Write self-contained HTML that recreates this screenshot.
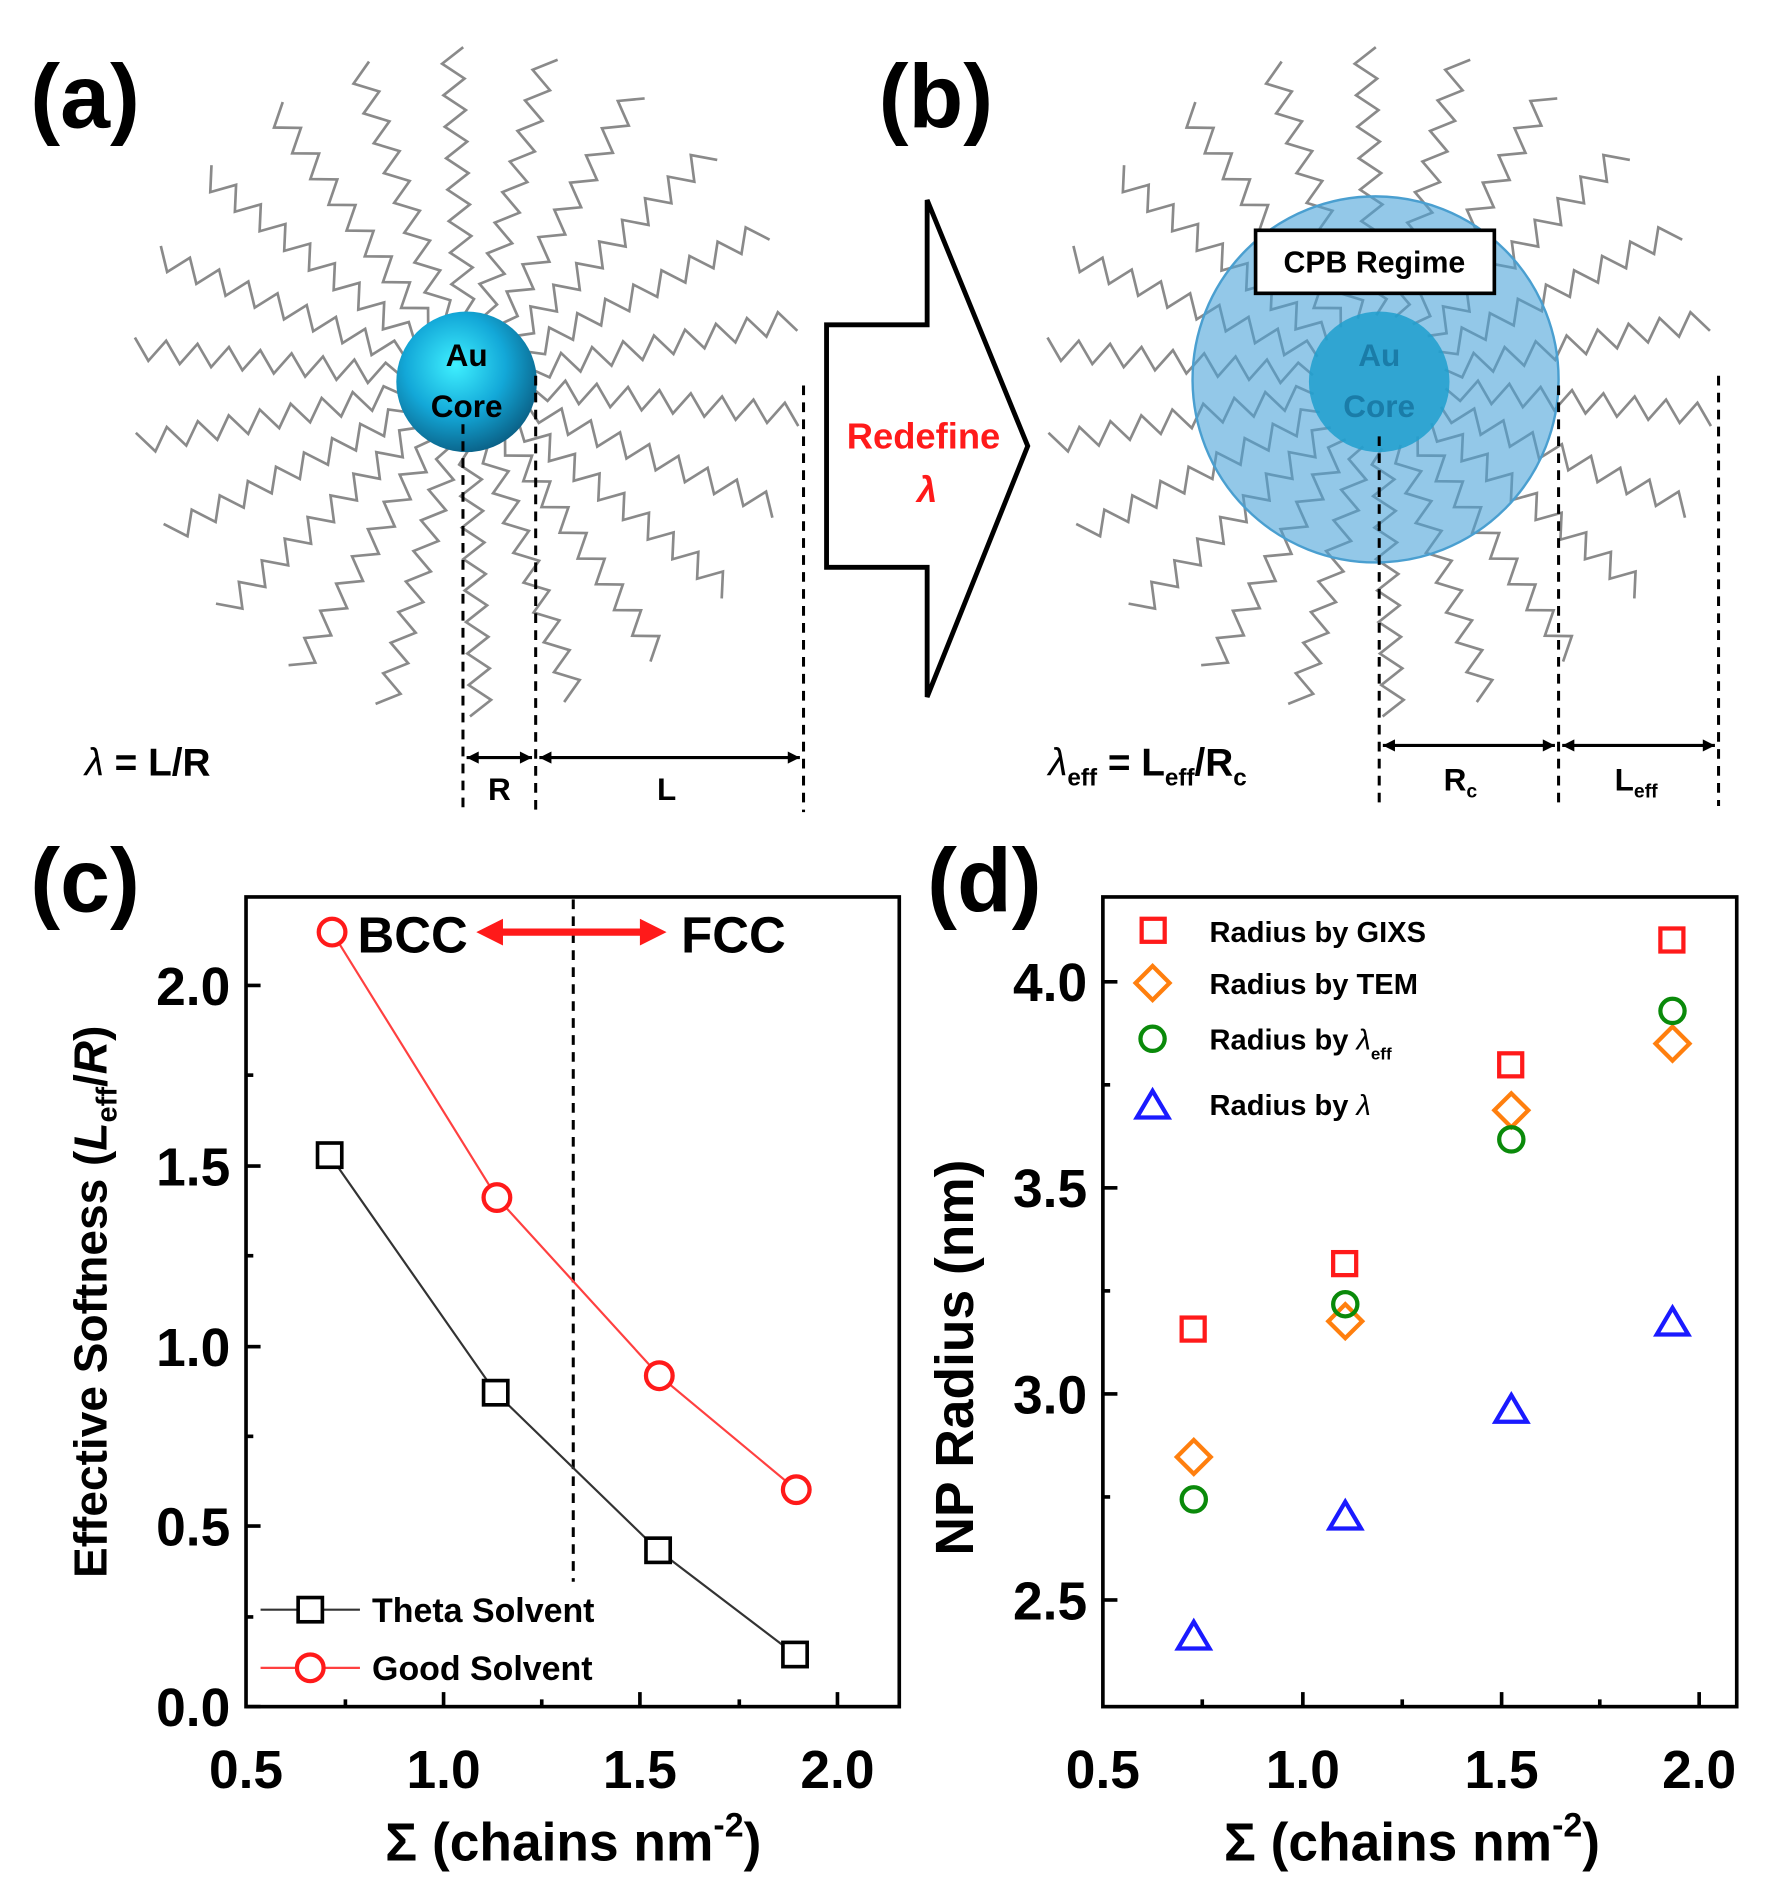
<!DOCTYPE html>
<html><head><meta charset="utf-8"><style>
html,body{margin:0;padding:0;background:#fff}
svg{display:block}
text{font-family:"Liberation Sans","DejaVu Sans",sans-serif;font-weight:bold}
</style></head><body>
<svg id="s" width="1784" height="1903" viewBox="0 0 1472 1570" preserveAspectRatio="none" xmlns="http://www.w3.org/2000/svg">
<defs>
<radialGradient id="au" cx="0.42" cy="0.38" r="0.65">
<stop offset="0" stop-color="#3ff0ff"/><stop offset="0.55" stop-color="#13a8d8"/><stop offset="1" stop-color="#0a5f85"/>
</radialGradient>
</defs>
<rect width="1472" height="1570" fill="#fff"/>
<g id="chainsA" fill="none" stroke="#8a8a8a" stroke-width="2.2"></g>
<g id="chainsB" fill="none" stroke="#8a8a8a" stroke-width="2.2"></g>
<circle cx="1135" cy="313" r="151" fill="#4ba3d8" fill-opacity="0.6" stroke="#4a9fd0" stroke-width="2"/>
<circle cx="385" cy="315" r="58" fill="url(#au)"/>
<circle cx="1138" cy="315" r="58" fill="#1f9fce" fill-opacity="0.85"/>
<text x="385" y="302" font-size="26" text-anchor="middle">Au</text>
<text x="385" y="344" font-size="26" text-anchor="middle">Core</text>
<text x="1138" y="302" font-size="26" text-anchor="middle" fill="#1a7ca8">Au</text>
<text x="1138" y="344" font-size="26" text-anchor="middle" fill="#1a7ca8">Core</text>
<text x="25" y="105" font-size="74">(a)</text>
<text x="725" y="105" font-size="74">(b)</text>
<text x="25" y="752" font-size="74">(c)</text>
<text x="765" y="752" font-size="74">(d)</text>
<polygon points="682,268 765,268 765,165 848,368 765,575 765,468 682,468" fill="#fff" stroke="#000" stroke-width="4"/>
<text x="762" y="370" font-size="30" fill="#ff1a1a" text-anchor="middle">Redefine</text>
<text x="765" y="414" font-size="30" fill="#ff1a1a" text-anchor="middle" font-style="italic">λ</text>
<rect x="1036" y="190" width="197" height="52" fill="#fff" stroke="#000" stroke-width="3"/>
<text x="1134" y="225" font-size="25" text-anchor="middle">CPB Regime</text>
<g stroke="#000" stroke-width="2.5" stroke-dasharray="8,6">
<line x1="382" y1="350" x2="382" y2="670"/><line x1="442" y1="310" x2="442" y2="670"/><line x1="663" y1="318" x2="663" y2="670"/>
<line x1="1138" y1="360" x2="1138" y2="665"/><line x1="1286" y1="318" x2="1286" y2="665"/><line x1="1418" y1="310" x2="1418" y2="665"/>
</g>
<g stroke="#000" stroke-width="2.5">
<line x1="385" y1="625" x2="439" y2="625"/><line x1="445" y1="625" x2="660" y2="625"/>
<line x1="1141" y1="615" x2="1283" y2="615"/><line x1="1289" y1="615" x2="1415" y2="615"/>
</g>
<g fill="#000">
<polygon points="385,625 395,620 395,630"/><polygon points="439,625 429,620 429,630"/>
<polygon points="445,625 455,620 455,630"/><polygon points="660,625 650,620 650,630"/>
<polygon points="1141,615 1151,610 1151,620"/><polygon points="1283,615 1273,610 1273,620"/>
<polygon points="1289,615 1299,610 1299,620"/><polygon points="1415,615 1405,610 1405,620"/>
</g>
<text x="70" y="640" font-size="32"><tspan font-style="italic" font-weight="normal">λ</tspan> = L/R</text>
<text x="412" y="660" font-size="26" text-anchor="middle">R</text>
<text x="550" y="660" font-size="26" text-anchor="middle">L</text>
<text x="865" y="640" font-size="32"><tspan font-style="italic" font-weight="normal">λ</tspan><tspan font-size="20" dy="8">eff</tspan><tspan dy="-8"> = L</tspan><tspan font-size="20" dy="8">eff</tspan><tspan dy="-8">/R</tspan><tspan font-size="20" dy="8">c</tspan></text>
<text x="1205" y="652" font-size="26" text-anchor="middle">R<tspan font-size="16" dy="6">c</tspan></text>
<text x="1350" y="652" font-size="26" text-anchor="middle">L<tspan font-size="16" dy="6">eff</tspan></text>

<!-- panel c -->
<rect x="203" y="740" width="539" height="668" fill="none" stroke="#000" stroke-width="3"/>
<g stroke="#000" stroke-width="3">
<line x1="203" y1="1408" x2="215" y2="1408"/><line x1="203" y1="1259" x2="215" y2="1259"/><line x1="203" y1="1111" x2="215" y2="1111"/><line x1="203" y1="962" x2="215" y2="962"/><line x1="203" y1="813" x2="215" y2="813"/>
<line x1="203" y1="1334" x2="209" y2="1334"/><line x1="203" y1="1185" x2="209" y2="1185"/><line x1="203" y1="1036" x2="209" y2="1036"/><line x1="203" y1="887" x2="209" y2="887"/>
<line x1="366" y1="1408" x2="366" y2="1396"/><line x1="528" y1="1408" x2="528" y2="1396"/><line x1="691" y1="1408" x2="691" y2="1396"/>
<line x1="285" y1="1408" x2="285" y2="1402"/><line x1="447" y1="1408" x2="447" y2="1402"/><line x1="610" y1="1408" x2="610" y2="1402"/>
</g>
<g font-size="44" text-anchor="end">
<text x="190" y="1424">0.0</text><text x="190" y="1275">0.5</text><text x="190" y="1127">1.0</text><text x="190" y="978">1.5</text><text x="190" y="829">2.0</text>
</g>
<g font-size="44" text-anchor="middle">
<text x="203" y="1475">0.5</text><text x="366" y="1475">1.0</text><text x="528" y="1475">1.5</text><text x="691" y="1475">2.0</text>
<text x="473" y="1535">Σ (chains nm<tspan font-size="28" dy="-20">-2</tspan><tspan dy="20">)</tspan></text>
</g>
<text transform="translate(88,1074) rotate(-90)" font-size="38" text-anchor="middle">Effective Softness (<tspan font-style="italic">L</tspan><tspan font-size="24" dy="8">eff</tspan><tspan dy="-8">/</tspan><tspan font-style="italic">R</tspan>)</text>
<line x1="473" y1="742" x2="473" y2="1305" stroke="#000" stroke-width="2.5" stroke-dasharray="8,6"/>
<polyline points="272,953 409,1149 543,1279 656,1365" fill="none" stroke="#333" stroke-width="1.8"/>
<polyline points="274,769 410,988 544,1135 657,1229" fill="none" stroke="#ff4040" stroke-width="1.8"/>
<g fill="#fff" stroke="#000" stroke-width="3">
<rect x="262" y="943" width="20" height="20"/><rect x="399" y="1139" width="20" height="20"/><rect x="533" y="1269" width="20" height="20"/><rect x="646" y="1355" width="20" height="20"/>
</g>
<g fill="#fff" stroke="#ff1a1a" stroke-width="3.5">
<circle cx="274" cy="769" r="11"/><circle cx="410" cy="988" r="11"/><circle cx="544" cy="1135" r="11"/><circle cx="657" cy="1229" r="11"/>
</g>
<text x="295" y="786" font-size="42">BCC</text>
<text x="562" y="786" font-size="42">FCC</text>
<line x1="410" y1="769" x2="535" y2="769" stroke="#ff1a1a" stroke-width="6"/>
<polygon points="393,769 415,758 415,780" fill="#ff1a1a"/><polygon points="550,769 528,758 528,780" fill="#ff1a1a"/>
<line x1="215" y1="1328" x2="297" y2="1328" stroke="#333" stroke-width="1.8"/>
<rect x="246" y="1318" width="20" height="20" fill="#fff" stroke="#000" stroke-width="3"/>
<line x1="215" y1="1376" x2="297" y2="1376" stroke="#ff4040" stroke-width="1.8"/>
<circle cx="256" cy="1376" r="11" fill="#fff" stroke="#ff1a1a" stroke-width="3.5"/>
<text x="307" y="1338" font-size="28">Theta Solvent</text>
<text x="307" y="1386" font-size="28">Good Solvent</text>

<!-- panel d -->
<rect x="910" y="740" width="523" height="668" fill="none" stroke="#000" stroke-width="3"/>
<g stroke="#000" stroke-width="3">
<line x1="910" y1="1320" x2="922" y2="1320"/><line x1="910" y1="1150" x2="922" y2="1150"/><line x1="910" y1="980" x2="922" y2="980"/><line x1="910" y1="810" x2="922" y2="810"/>
<line x1="910" y1="1235" x2="916" y2="1235"/><line x1="910" y1="1065" x2="916" y2="1065"/><line x1="910" y1="895" x2="916" y2="895"/>
<line x1="1075" y1="1408" x2="1075" y2="1396"/><line x1="1239" y1="1408" x2="1239" y2="1396"/><line x1="1402" y1="1408" x2="1402" y2="1396"/>
<line x1="992" y1="1408" x2="992" y2="1402"/><line x1="1157" y1="1408" x2="1157" y2="1402"/><line x1="1320" y1="1408" x2="1320" y2="1402"/>
</g>
<g font-size="44" text-anchor="end">
<text x="897" y="1336">2.5</text><text x="897" y="1166">3.0</text><text x="897" y="996">3.5</text><text x="897" y="826">4.0</text>
</g>
<g font-size="44" text-anchor="middle">
<text x="910" y="1475">0.5</text><text x="1075" y="1475">1.0</text><text x="1239" y="1475">1.5</text><text x="1402" y="1475">2.0</text>
<text x="1165" y="1535">Σ (chains nm<tspan font-size="28" dy="-20">-2</tspan><tspan dy="20">)</tspan></text>
</g>
<text transform="translate(803,1120) rotate(-90)" font-size="44" text-anchor="middle">NP Radius (nm)</text>
<g fill="none" stroke="#ff1a1a" stroke-width="3.5">
<rect x="975" y="1087" width="19" height="19"/><rect x="1100" y="1033" width="19" height="19"/><rect x="1237" y="869" width="19" height="19"/><rect x="1370" y="766" width="19" height="19"/>
<rect x="942" y="758" width="19" height="19"/>
</g>
<g fill="none" stroke="#ff7f0e" stroke-width="3.5">
<path d="M985,1188 l14,14 l-14,14 l-14,-14z M1110,1076 l14,14 l-14,14 l-14,-14z M1247,902 l14,14 l-14,14 l-14,-14z M1380,847 l14,14 l-14,14 l-14,-14z M951,797 l14,14 l-14,14 l-14,-14z"/>
</g>
<g fill="none" stroke="#0a8a0a" stroke-width="3.5">
<circle cx="985" cy="1237" r="10"/><circle cx="1110" cy="1076" r="10"/><circle cx="1247" cy="940" r="10"/><circle cx="1380" cy="834" r="10"/><circle cx="951" cy="857" r="10"/>
</g>
<g fill="none" stroke="#1a1aff" stroke-width="3.5">
<path d="M985,1338 l13,22 h-26z M1110,1239 l13,22 h-26z M1247,1151 l13,22 h-26z M1380,1079 l13,22 h-26z M951,900 l13,22 h-26z"/>
</g>
<g font-size="24">
<text x="998" y="777">Radius by GIXS</text>
<text x="998" y="820">Radius by TEM</text>
<text x="998" y="866">Radius by <tspan font-style="italic" font-weight="normal">λ</tspan><tspan font-size="14" dy="8">eff</tspan></text>
<text x="998" y="920">Radius by <tspan font-style="italic" font-weight="normal">λ</tspan></text>
</g>
</svg>
<script>
function chains(gid,cx,cy,r0,r1,n,off){
 var g=document.getElementById(gid),s='';
 for(var i=0;i<n;i++){
  var a=off+i*2*Math.PI/n, ux=Math.cos(a), uy=Math.sin(a), px=-uy, py=ux;
  var d='M'+(cx+ux*r0).toFixed(1)+','+(cy+uy*r0).toFixed(1), step=13, k=0;
  for(var r=r0+step;r<=r1;r+=step){k++;var amp=(k%2?9:-9);
   d+=' L'+(cx+ux*r+px*amp).toFixed(1)+','+(cy+uy*r+py*amp).toFixed(1);}
  s+='<path d="'+d+'"/>';
 }
 g.innerHTML=s;
}
chains('chainsA',385,315,55,285,22,0.1);
chains('chainsB',1138,315,55,285,22,0.1);
</script>
</body></html>
